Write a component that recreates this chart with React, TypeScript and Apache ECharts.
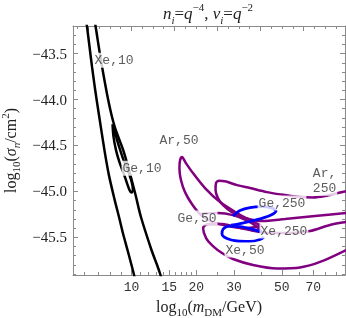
import React, { useEffect, useRef } from "react";
import * as echarts from "echarts";

// x = log10(m_DM / GeV), y = log10(sigma_n / cm^2)
const xTickLabels = [10, 15, 20, 30, 50, 70];
const xMinorTicks = [6, 7, 8, 9, 11, 12, 13, 14, 16, 17, 18, 19, 25, 40, 60, 80, 90];
const yTickLabels = [-43.5, -44.0, -44.5, -45.0, -45.5];

const xe10Left = [[0.789, -43.15], [0.793, -43.203], [0.812, -43.562], [0.830, -43.877], [0.849, -44.171], [0.875, -44.562], [0.895, -44.823], [0.922, -45.095], [0.942, -45.279], [0.960, -45.453], [0.984, -45.660], [1.012, -45.910], [1.015, -45.95]];
const xe10Right = [[0.829, -43.15], [0.833, -43.203], [0.858, -43.573], [0.892, -44.008], [0.921, -44.290], [0.963, -44.562], [0.991, -44.790], [1.019, -45.040], [1.044, -45.279], [1.093, -45.638], [1.119, -45.801], [1.135, -45.910], [1.139, -45.95]];
const ge10 = [[0.912, -44.268], [0.916, -44.399], [0.928, -44.551], [0.944, -44.682], [0.963, -44.801], [0.979, -44.910], [0.991, -44.986], [1.000, -45.013], [1.007, -44.986], [1.000, -44.888], [0.984, -44.779], [0.965, -44.671], [0.949, -44.562], [0.933, -44.442], [0.921, -44.334], [0.912, -44.268]];

const ar50 = [[1.607, -45.377], [1.551, -45.312], [1.491, -45.236], [1.412, -45.116], [1.342, -44.964], [1.286, -44.801], [1.253, -44.692], [1.235, -44.627], [1.226, -44.660], [1.223, -44.747], [1.230, -44.877], [1.249, -45.008], [1.281, -45.138], [1.323, -45.258], [1.379, -45.334], [1.449, -45.377], [1.528, -45.399], [1.607, -45.377]];
const ar250 = [[1.998, -44.997], [1.960, -45.018], [1.900, -45.051], [1.844, -45.067], [1.784, -45.062], [1.714, -45.040], [1.630, -45.008], [1.551, -44.964], [1.491, -44.932], [1.440, -44.893], [1.407, -44.883], [1.393, -44.910], [1.391, -44.986], [1.402, -45.073], [1.426, -45.149], [1.467, -45.225], [1.528, -45.290], [1.607, -45.323], [1.714, -45.301], [1.853, -45.268], [1.998, -45.236]];
const xe50 = [[1.998, -45.334], [1.923, -45.366], [1.830, -45.432], [1.737, -45.453], [1.644, -45.453], [1.574, -45.432], [1.505, -45.399], [1.421, -45.355], [1.356, -45.355], [1.333, -45.399], [1.347, -45.508], [1.379, -45.595], [1.421, -45.671], [1.472, -45.736], [1.565, -45.801], [1.677, -45.839], [1.784, -45.828], [1.877, -45.768], [1.998, -45.638]];
const ge50 = [[1.319, -45.247], [1.402, -45.236], [1.472, -45.258], [1.533, -45.312], [1.579, -45.377], [1.607, -45.442]];

const ge250 = [[1.472, -45.268], [1.505, -45.209], [1.551, -45.176], [1.607, -45.165], [1.653, -45.182], [1.672, -45.214], [1.649, -45.258], [1.602, -45.296], [1.547, -45.328], [1.495, -45.355], [1.463, -45.366]];
const xe250 = [[1.607, -45.442], [1.560, -45.410], [1.505, -45.383], [1.453, -45.377], [1.426, -45.410], [1.421, -45.464], [1.444, -45.513], [1.491, -45.540], [1.551, -45.545], [1.598, -45.524], [1.616, -45.497]];

const contourLabels = [
  { text: "Xe,10", x: 0.919, y: -43.573 },
  { text: "Ge,10", x: 1.049, y: -44.747 },
  { text: "Ar,50", x: 1.221, y: -44.442 },
  { text: "Ar,\n250", x: 1.898, y: -44.885 },
  { text: "Ge,50", x: 1.305, y: -45.290 },
  { text: "Ge,250", x: 1.700, y: -45.127 },
  { text: "Xe,250", x: 1.709, y: -45.432 },
  { text: "Xe,50", x: 1.528, y: -45.638 },
];

const X_MIN = 0.728, X_MAX = 1.993, Y_MIN = -45.91, Y_MAX = -43.2;
const FRAME = "#8a8a8a";
const SERIF = "'Liberation Serif', 'Times New Roman', serif";
const MONO = "'Liberation Mono', 'Courier New', monospace";

function range(a: number, b: number, s: number) {
  const out: number[] = [];
  for (let v = a; v <= b + 1e-9; v += s) out.push(Math.round(v * 1000) / 1000);
  return out;
}

export default function App() {
  const ref = useRef<HTMLDivElement>(null);
  useEffect(() => {
    if (!ref.current) return;
    const chart = echarts.init(ref.current, undefined, { renderer: "svg" });
    const xMajors = xTickLabels.map((v) => Math.log10(v));
    const xMinors = xMinorTicks.map((v) => Math.log10(v));
    const topMajors = range(0.8, 1.8, 0.2);
    const topMinors = range(0.75, 1.95, 0.05).filter((v) => !topMajors.some((m) => Math.abs(m - v) < 1e-6));
    const yMinors = range(-45.9, -43.3, 0.1).filter((v) => !yTickLabels.some((m) => Math.abs(m - v) < 1e-6));

    const baseX = { type: "value", min: X_MIN, max: X_MAX, splitLine: { show: false }, axisLine: { show: false, onZero: false } };
    const baseY = { type: "value", min: Y_MIN, max: Y_MAX, splitLine: { show: false }, axisLine: { show: false, onZero: false } };

    const lineSeries = (data: number[][], color: string, width = 2.5) => ({
      type: "line",
      data,
      showSymbol: false,
      symbol: "none",
      smooth: 0.3,
      clip: true,
      silent: true,
      lineStyle: { color, width },
      z: 3,
    });

    chart.setOption({
      animation: false,
      grid: { left: 73, right: 1, top: 26, bottom: 43, containLabel: false, outerBoundsMode: "none" },
      xAxis: [
        {
          ...baseX,
          position: "bottom",
          axisLine: { show: true, onZero: false, lineStyle: { color: FRAME, width: 1 } },
          axisTick: { show: true, inside: true, length: 5, customValues: xMajors, lineStyle: { color: FRAME } },
          axisLabel: {
            show: true, customValues: xMajors, margin: 6, color: "#333", fontFamily: MONO, fontSize: 13,
            formatter: (v: number) => String(Math.round(Math.pow(10, v))),
          },
          name: "{n|log}{sb|10}{n|(}{i|m}{sb|DM}{n|/GeV)}",
          nameLocation: "middle",
          nameGap: 20,
          nameTextStyle: {
            rich: {
              n: { fontFamily: SERIF, fontSize: 16, color: "#222", lineHeight: 22, verticalAlign: "middle" },
              i: { fontFamily: SERIF, fontSize: 16, fontStyle: "italic", color: "#222", lineHeight: 22, verticalAlign: "middle" },
              sb: { fontFamily: SERIF, fontSize: 11, color: "#222", lineHeight: 12, verticalAlign: "bottom" },
            },
          },
        },
        {
          ...baseX,
          position: "bottom",
          axisTick: { show: true, inside: true, length: 3, customValues: xMinors, lineStyle: { color: FRAME } },
          axisLabel: { show: false },
        },
        {
          ...baseX,
          position: "top",
          axisLine: { show: true, onZero: false, lineStyle: { color: FRAME, width: 1 } },
          axisTick: { show: true, inside: true, length: 5, customValues: topMajors, lineStyle: { color: FRAME } },
          axisLabel: { show: false },
        },
        {
          ...baseX,
          position: "top",
          axisTick: { show: true, inside: true, length: 3, customValues: topMinors, lineStyle: { color: FRAME } },
          axisLabel: { show: false },
        },
      ],
      yAxis: [
        {
          ...baseY,
          position: "left",
          axisLine: { show: true, onZero: false, lineStyle: { color: FRAME, width: 1 } },
          axisTick: { show: true, inside: true, length: 5, customValues: yTickLabels, lineStyle: { color: FRAME } },
          axisLabel: {
            show: true, customValues: yTickLabels, margin: 6, color: "#222", fontFamily: SERIF, fontSize: 15,
            formatter: (v: number) => "\u2212" + Math.abs(v).toFixed(1),
          },
          name: "{n|log}{sb|10}{n|(}{i|\u03c3}{sbi|n}{n|/cm}{sp|2}{n|)}",
          nameLocation: "middle",
          nameRotate: 90,
          nameGap: 48,
          nameTextStyle: {
            rich: {
              n: { fontFamily: SERIF, fontSize: 16, color: "#222", lineHeight: 22, verticalAlign: "middle" },
              i: { fontFamily: SERIF, fontSize: 16, fontStyle: "italic", color: "#222", lineHeight: 22, verticalAlign: "middle" },
              sb: { fontFamily: SERIF, fontSize: 11, color: "#222", lineHeight: 12, verticalAlign: "bottom" },
              sbi: { fontFamily: SERIF, fontSize: 11, fontStyle: "italic", color: "#222", lineHeight: 12, verticalAlign: "bottom" },
              sp: { fontFamily: SERIF, fontSize: 11, color: "#222", lineHeight: 12, verticalAlign: "top" },
            },
          },
        },
        {
          ...baseY,
          position: "left",
          axisTick: { show: true, inside: true, length: 3, customValues: yMinors, lineStyle: { color: FRAME } },
          axisLabel: { show: false },
        },
        {
          ...baseY,
          position: "right",
          axisLine: { show: true, onZero: false, lineStyle: { color: FRAME, width: 1 } },
          axisTick: { show: true, inside: true, length: 5, customValues: yTickLabels, lineStyle: { color: FRAME } },
          axisLabel: { show: false },
        },
        {
          ...baseY,
          position: "right",
          axisTick: { show: true, inside: true, length: 3, customValues: yMinors, lineStyle: { color: FRAME } },
          axisLabel: { show: false },
        },
      ],
      graphic: [
        {
          type: "text",
          x: 208,
          y: 1,
          style: {
            text: "{i|n}{sb|i}{n|=}{i|q}{sp|\u22124}{n|, }{i|\u03bd}{sb|i}{n|=}{i|q}{sp|\u22122}",
            align: "center",
            textAlign: "center",
            rich: {
              n: { fontFamily: SERIF, fontSize: 17, fill: "#222", color: "#222", lineHeight: 24, verticalAlign: "middle" },
              i: { fontFamily: SERIF, fontSize: 17, fontStyle: "italic", fill: "#222", color: "#222", lineHeight: 24, verticalAlign: "middle" },
              sb: { fontFamily: SERIF, fontSize: 11, fontStyle: "italic", fill: "#222", color: "#222", lineHeight: 12, verticalAlign: "bottom" },
              sp: { fontFamily: SERIF, fontSize: 11, fill: "#222", color: "#222", lineHeight: 12, verticalAlign: "top" },
            },
          },
        },
      ],
      series: [
        lineSeries(xe10Left, "#000000"),
        lineSeries(xe10Right, "#000000"),
        lineSeries(ge10, "#000000"),
        lineSeries(ar50, "#800080"),
        lineSeries(ar250, "#800080"),
        lineSeries(xe50, "#800080"),
        lineSeries(ge50, "#800080"),
        lineSeries(ge250, "#0000ff", 2.8),
        lineSeries(xe250, "#0000ff", 2.8),
        {
          type: "scatter",
          symbolSize: 0,
          silent: true,
          z: 10,
          data: contourLabels.map((l) => ({ value: [l.x, l.y], name: l.text })),
          label: {
            show: true,
            position: "inside",
            formatter: (p: any) => p.name,
            fontFamily: MONO,
            fontSize: 13,
            lineHeight: 15,
            color: "#333",
            backgroundColor: "#ffffff",
            padding: [0, 1],
          },
        },
      ],
    });
    return () => chart.dispose();
  }, []);
  return <div ref={ref} style={{ position: "fixed", left: 0, top: 0, width: 346, height: 318 }} />;
}
